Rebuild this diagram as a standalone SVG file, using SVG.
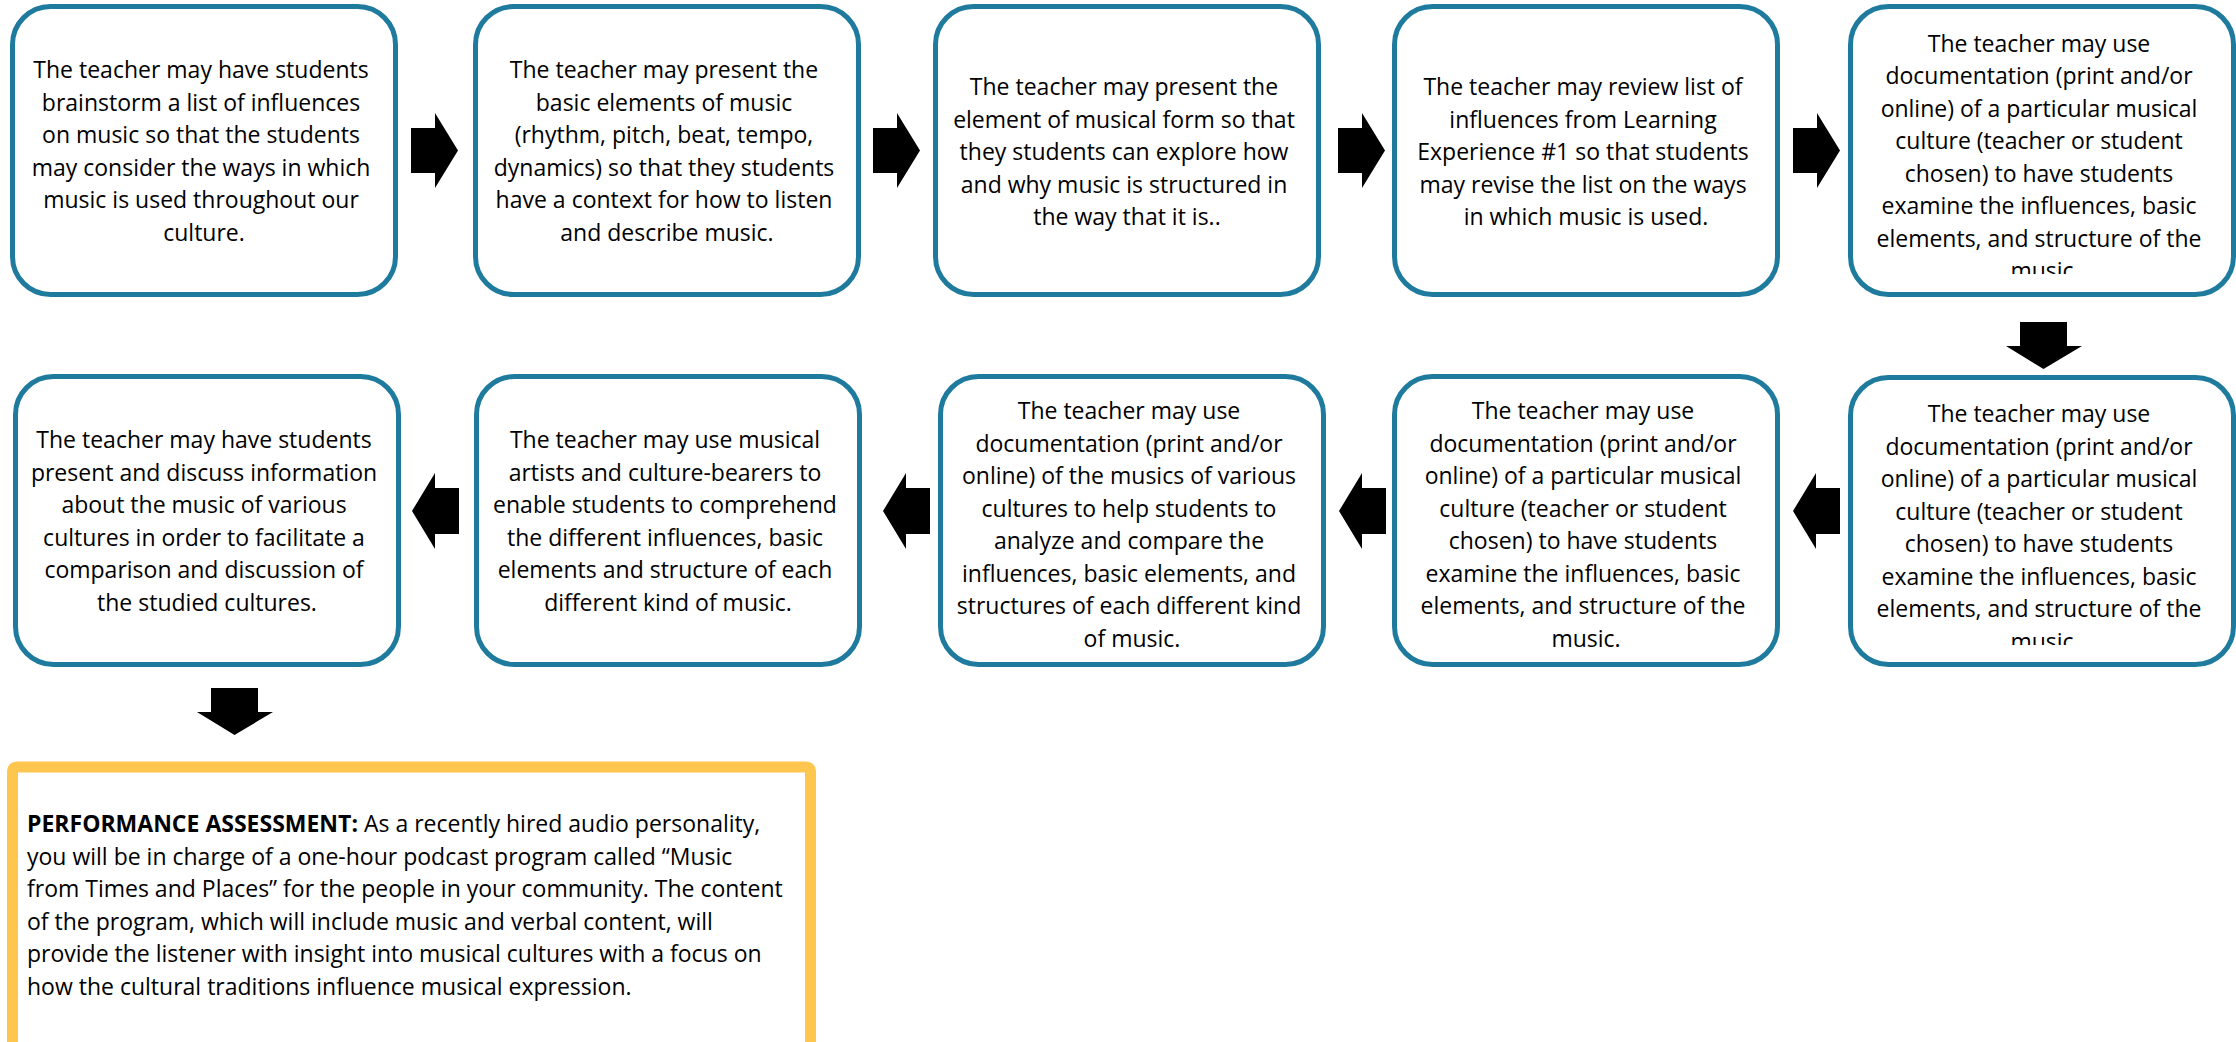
<svg xmlns="http://www.w3.org/2000/svg" width="2236" height="1042" viewBox="0 0 2236 1042">
<style>
  .box { fill: #ffffff; stroke: #1F7B9E; stroke-width: 5; }
  .pa { fill: #ffffff; stroke: #FFC64F; stroke-width: 11; }
  .t { font-family: "Open Sans", "Liberation Sans", sans-serif; font-size: 23px; fill: #000000; text-anchor: middle; }
  .pt { font-family: "Open Sans", "Liberation Sans", sans-serif; font-size: 23px; fill: #000000; }
  .b { font-weight: bold; }
  .arr { fill: #000000; }
</style>
<defs>
  <clipPath id="c5"><rect x="1848" y="0" width="388" height="274"/></clipPath>
  <clipPath id="c6"><rect x="1848" y="374" width="388" height="271"/></clipPath>
  <polygon id="ra" points="0,15 24,15 24,0 47,37.5 24,75 24,60 0,60"/>
  <polygon id="la" points="47,15 23,15 23,0 0,38 23,76 23,61 47,61"/>
  <polygon id="da" points="14,0 61,0 61,24 76,24 37.5,47 0,24 14,24"/>
</defs>
<rect width="2236" height="1042" fill="#ffffff"/>

<g id="connectors">
  <use href="#ra" class="arr" x="411" y="113"/>
  <use href="#ra" class="arr" x="873" y="113"/>
  <use href="#ra" class="arr" x="1338" y="113"/>
  <use href="#ra" class="arr" x="1793" y="113"/>
  <use href="#da" class="arr" x="2006" y="322"/>
  <use href="#la" class="arr" x="1793" y="473"/>
  <use href="#la" class="arr" x="1339" y="473"/>
  <use href="#la" class="arr" x="883" y="473"/>
  <use href="#la" class="arr" x="412" y="473"/>
  <use href="#da" class="arr" x="197" y="688"/>
</g>

<g id="node1">
  <rect class="box" x="12.5" y="6.5" width="383" height="288" rx="38"/>
  <text class="t">
    <tspan x="204" y="78">The teacher may have students</tspan>
    <tspan x="204" y="110.5">brainstorm a list of influences</tspan>
    <tspan x="204" y="143">on music so that the students</tspan>
    <tspan x="204" y="175.5">may consider the ways in which</tspan>
    <tspan x="204" y="208">music is used throughout our</tspan>
    <tspan x="204" y="240.5">culture.</tspan>
  </text>
</g>

<g id="node2">
  <rect class="box" x="475.5" y="6.5" width="383" height="288" rx="38"/>
  <text class="t">
    <tspan x="667" y="78">The teacher may present the</tspan>
    <tspan x="667" y="110.5">basic elements of music</tspan>
    <tspan x="667" y="143">(rhythm, pitch, beat, tempo,</tspan>
    <tspan x="667" y="175.5">dynamics) so that they students</tspan>
    <tspan x="667" y="208">have a context for how to listen</tspan>
    <tspan x="667" y="240.5">and describe music.</tspan>
  </text>
</g>

<g id="node3">
  <rect class="box" x="935.5" y="6.5" width="383" height="288" rx="38"/>
  <text class="t">
    <tspan x="1127" y="95">The teacher may present the</tspan>
    <tspan x="1127" y="127.5">element of musical form so that</tspan>
    <tspan x="1127" y="160">they students can explore how</tspan>
    <tspan x="1127" y="192.5">and why music is structured in</tspan>
    <tspan x="1127" y="225">the way that it is..</tspan>
  </text>
</g>

<g id="node4">
  <rect class="box" x="1394.5" y="6.5" width="383" height="288" rx="38"/>
  <text class="t">
    <tspan x="1586" y="95">The teacher may review list of</tspan>
    <tspan x="1586" y="127.5">influences from Learning</tspan>
    <tspan x="1586" y="160">Experience #1 so that students</tspan>
    <tspan x="1586" y="192.5">may revise the list on the ways</tspan>
    <tspan x="1586" y="225">in which music is used.</tspan>
  </text>
</g>

<g id="node5">
  <rect class="box" x="1850.5" y="6.5" width="383" height="288" rx="38"/>
  <text class="t" clip-path="url(#c5)">
    <tspan x="2042" y="51.5">The teacher may use</tspan>
    <tspan x="2042" y="84">documentation (print and/or</tspan>
    <tspan x="2042" y="116.5">online) of a particular musical</tspan>
    <tspan x="2042" y="149">culture (teacher or student</tspan>
    <tspan x="2042" y="181.5">chosen) to have students</tspan>
    <tspan x="2042" y="214">examine the influences, basic</tspan>
    <tspan x="2042" y="246.5">elements, and structure of the</tspan>
    <tspan x="2042" y="279">music</tspan>
  </text>
</g>

<g id="node6">
  <rect class="box" x="1850.5" y="377.5" width="383" height="287" rx="38"/>
  <text class="t" clip-path="url(#c6)">
    <tspan x="2042" y="422">The teacher may use</tspan>
    <tspan x="2042" y="454.5">documentation (print and/or</tspan>
    <tspan x="2042" y="487">online) of a particular musical</tspan>
    <tspan x="2042" y="519.5">culture (teacher or student</tspan>
    <tspan x="2042" y="552">chosen) to have students</tspan>
    <tspan x="2042" y="584.5">examine the influences, basic</tspan>
    <tspan x="2042" y="617">elements, and structure of the</tspan>
    <tspan x="2042" y="649.5">music</tspan>
  </text>
</g>

<g id="node7">
  <rect class="box" x="1394.5" y="376.5" width="383" height="288" rx="38"/>
  <text class="t">
    <tspan x="1586" y="419">The teacher may use</tspan>
    <tspan x="1586" y="451.5">documentation (print and/or</tspan>
    <tspan x="1586" y="484">online) of a particular musical</tspan>
    <tspan x="1586" y="516.5">culture (teacher or student</tspan>
    <tspan x="1586" y="549">chosen) to have students</tspan>
    <tspan x="1586" y="581.5">examine the influences, basic</tspan>
    <tspan x="1586" y="614">elements, and structure of the</tspan>
    <tspan x="1586" y="646.5">music.</tspan>
  </text>
</g>

<g id="node8">
  <rect class="box" x="940.5" y="376.5" width="383" height="288" rx="38"/>
  <text class="t">
    <tspan x="1132" y="419">The teacher may use</tspan>
    <tspan x="1132" y="451.5">documentation (print and/or</tspan>
    <tspan x="1132" y="484">online) of the musics of various</tspan>
    <tspan x="1132" y="516.5">cultures to help students to</tspan>
    <tspan x="1132" y="549">analyze and compare the</tspan>
    <tspan x="1132" y="581.5">influences, basic elements, and</tspan>
    <tspan x="1132" y="614">structures of each different kind</tspan>
    <tspan x="1132" y="646.5">of music.</tspan>
  </text>
</g>

<g id="node9">
  <rect class="box" x="476.5" y="376.5" width="383" height="288" rx="38"/>
  <text class="t">
    <tspan x="668" y="448">The teacher may use musical</tspan>
    <tspan x="668" y="480.5">artists and culture-bearers to</tspan>
    <tspan x="668" y="513">enable students to comprehend</tspan>
    <tspan x="668" y="545.5">the different influences, basic</tspan>
    <tspan x="668" y="578">elements and structure of each</tspan>
    <tspan x="668" y="610.5">different kind of music.</tspan>
  </text>
</g>

<g id="node10">
  <rect class="box" x="15.5" y="376.5" width="383" height="288" rx="38"/>
  <text class="t">
    <tspan x="207" y="448">The teacher may have students</tspan>
    <tspan x="207" y="480.5">present and discuss information</tspan>
    <tspan x="207" y="513">about the music of various</tspan>
    <tspan x="207" y="545.5">cultures in order to facilitate a</tspan>
    <tspan x="207" y="578">comparison and discussion of</tspan>
    <tspan x="207" y="610.5">the studied cultures.</tspan>
  </text>
</g>

<g id="performance-assessment">
  <rect class="pa" x="12.5" y="767" width="798" height="285" rx="4"/>
  <text class="pt">
    <tspan x="27" y="832"><tspan class="b">PERFORMANCE ASSESSMENT:</tspan> As a recently hired audio personality,</tspan>
    <tspan x="27" y="864.5">you will be in charge of a one-hour podcast program called “Music</tspan>
    <tspan x="27" y="897">from Times and Places” for the people in your community. The content</tspan>
    <tspan x="27" y="929.5">of the program, which will include music and verbal content, will</tspan>
    <tspan x="27" y="962">provide the listener with insight into musical cultures with a focus on</tspan>
    <tspan x="27" y="994.5">how the cultural traditions influence musical expression.</tspan>
  </text>
</g>
</svg>
